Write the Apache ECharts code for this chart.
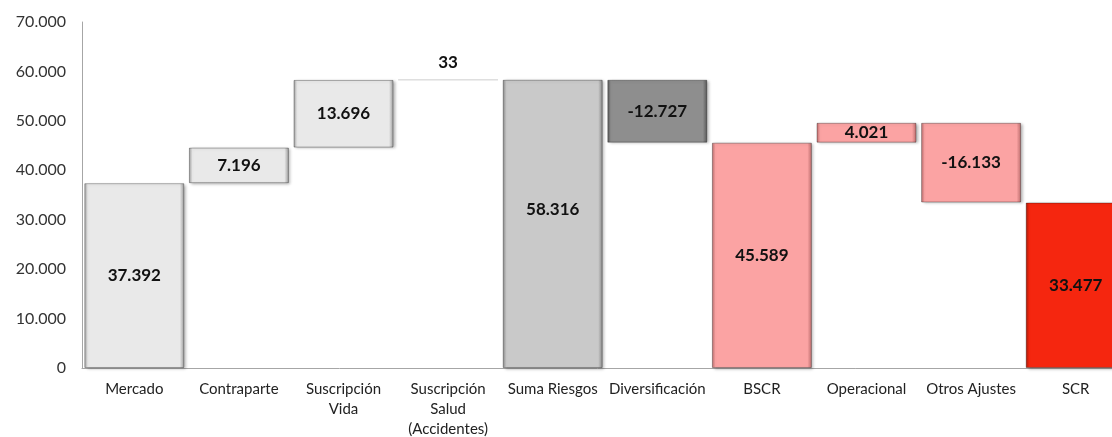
<!DOCTYPE html>
<html>
<head>
<meta charset="utf-8">
<script src="https://cdn.jsdelivr.net/npm/echarts@6/dist/echarts.min.js"></script>
<style>
  html, body { margin: 0; padding: 0; background: #fff; }
  #chart { width: 1112px; height: 437px; }
</style>
</head>
<body>
<div id="chart"></div>
<script>
// categories and signed values (totals start at 0, deltas continue from previous level)
const categories = ["Mercado", "Contraparte", "Suscripción\nVida", "Suscripción\nSalud\n(Accidentes)",
  "Suma Riesgos", "Diversificación", "BSCR", "Operacional", "Otros Ajustes", "SCR"];
const values = [37392, 7196, 13696, 33, 58316, -12727, 45589, 4021, -16133, 33477];
const kinds = ["total", "delta", "delta", "delta", "total", "delta", "total", "delta", "delta", "total"];
const colors = ["#e9e9e9", "#e9e9e9", "#e9e9e9", "#e4e4e4", "#c9c9c9", "#8e8e8e", "#fba3a3", "#fba3a3", "#fba3a3", "#f5260f"];
const edgeColors = ["#9a9a9a", "#9a9a9a", "#9a9a9a", "#e4e4e4", "#858585", "#555555", "#b86a6a", "#b86a6a", "#b86a6a", "#a81a08"];
const yTicks = [0, 10000, 20000, 30000, 40000, 50000, 60000, 70000];

function fmt(v) {
  const s = Math.abs(v).toString().replace(/\B(?=(\d{3})+(?!\d))/g, ".");
  return (v < 0 ? "-" : "") + s;
}

// build invisible base + visible height
let level = 0;
const baseData = [], barData = [];
values.forEach((v, i) => {
  if (kinds[i] === "total") {
    baseData.push(0);
    barData.push(v);
    level = v;
  } else {
    const from = level, to = level + v;
    baseData.push(Math.min(from, to));
    barData.push(Math.abs(v));
    level = to;
  }
});

// bevel-like fill: darker side edges
function bevel(i) {
  return new echarts.graphic.LinearGradient(0, 0, 1, 0, [
    { offset: 0, color: edgeColors[i] },
    { offset: 0.035, color: colors[i] },
    { offset: 0.955, color: colors[i] },
    { offset: 1, color: edgeColors[i] }
  ]);
}

const chart = echarts.init(document.getElementById("chart"));
chart.setOption({
  animation: false,
  textStyle: { fontFamily: "Lato" },
  grid: { left: 82, top: 22, bottom: 69, width: 1046, outerBoundsMode: "none", containLabel: false },
  xAxis: {
    type: "category",
    data: categories,
    axisLine: { lineStyle: { color: "#a6a6a6" } },
    axisTick: { show: false },
    axisLabel: { color: "#222", fontSize: 15, lineHeight: 20, margin: 11, interval: 0 }
  },
  yAxis: {
    type: "value",
    min: yTicks[0],
    max: yTicks[yTicks.length - 1],
    interval: 10000,
    splitLine: { show: false },
    axisLine: { show: true, lineStyle: { color: "#a6a6a6" } },
    axisTick: { show: false },
    axisLabel: { color: "#333", fontSize: 16, margin: 16, formatter: fmt }
  },
  series: [
    {
      type: "bar",
      stack: "w",
      data: baseData,
      itemStyle: { color: "transparent" },
      barCategoryGap: "4.4%",
      silent: true
    },
    {
      type: "bar",
      stack: "w",
      barCategoryGap: "4.4%",
      data: barData.map((h, i) => ({
        value: h,
        itemStyle: {
          color: i === 3 ? colors[i] : bevel(i),
          borderColor: i === 3 ? "#dcdcdc" : "rgba(0,0,0,0.3)",
          borderWidth: 1,
          shadowColor: i === 3 ? "transparent" : "rgba(0,0,0,0.3)",
          shadowBlur: 3,
          shadowOffsetX: 2,
          shadowOffsetY: 1
        },
        label: i === 3 ? { position: "top", distance: 8 }
          : (i === 4 ? { offset: [0, -14] } : {})
      })),
      label: {
        show: true,
        position: "inside",
        color: "#111",
        fontSize: 17,
        fontWeight: "bold",
        formatter: p => fmt(values[p.dataIndex])
      }
    }
  ]
});
</script>
</body>
</html>
